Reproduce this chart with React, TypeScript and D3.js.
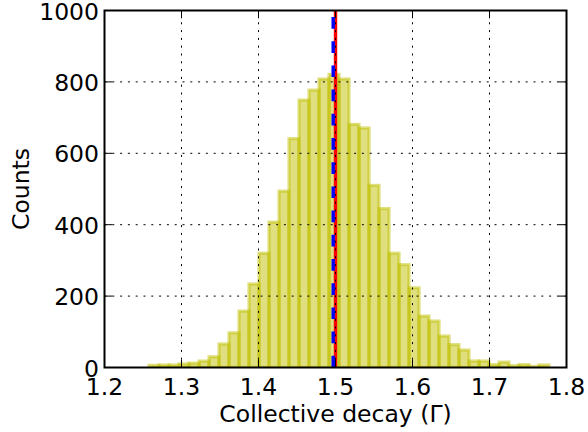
import React from "react";
import * as d3 from "d3";

// Histogram of collective decay estimates (40 bins)
const histMin = 1.2578;
const histMax = 1.7773;
const counts = [
  6, 7, 7, 10, 12, 18, 30, 66, 97, 158,
  234, 320, 407, 494, 641, 749, 777, 808, 821, 808,
  681, 671, 510, 445, 320, 288, 223, 144, 130, 88,
  64, 49, 18, 18, 8, 15, 5, 8, 3, 7,
];
const trueValue = 1.5;
const estimateValue = 1.497;

const xTicks = [1.2, 1.3, 1.4, 1.5, 1.6, 1.7, 1.8];
const yTicks = [0, 200, 400, 600, 800, 1000];
const xLabel = "Collective decay (\u0393)";
const yLabel = "Counts";

const W = 588;
const H = 432;
const left = 104.5;
const right = 566.5;
const top = 10.5;
const bottom = 367.5;
const FONT = "'DejaVu Sans', sans-serif";
const FS = 23.5;

export default function App() {
  const x = d3.scaleLinear().domain([1.2, 1.8]).range([left, right]);
  const y = d3.scaleLinear().domain([0, 1000]).range([bottom, top]);
  const bw = (histMax - histMin) / counts.length;
  const bins = counts.map((c, i) => ({ x0: histMin + i * bw, x1: histMin + (i + 1) * bw, c }));
  const tickLen = 7.8;

  return (
    <svg
      width={W}
      height={H}
      style={{ position: "absolute", left: 0, top: 0, background: "#fff" }}
      fontFamily={FONT}
    >
      <defs>
        <clipPath id="plot">
          <rect x={left} y={top} width={right - left} height={bottom - top} />
        </clipPath>
      </defs>
      <rect x={0} y={0} width={W} height={H} fill="#fff" />
      <g clipPath="url(#plot)">
        {bins.map((b, i) => (
          <rect
            key={i}
            x={x(b.x0)}
            y={y(b.c)}
            width={x(b.x1) - x(b.x0)}
            height={y(0) - y(b.c)}
            fill="rgb(191,191,0)"
            fillOpacity={0.5}
            stroke="rgb(191,191,0)"
            strokeOpacity={0.5}
            strokeWidth={3.2}
          />
        ))}
        <line
          x1={x(trueValue)}
          x2={x(trueValue)}
          y1={y(0)}
          y2={y(1000)}
          stroke="#ff0000"
          strokeWidth={3.4}
        />
        <line
          x1={x(estimateValue)}
          x2={x(estimateValue)}
          y1={y(0)}
          y2={y(1000)}
          stroke="#0000ff"
          strokeWidth={3.4}
          strokeDasharray="11.7 12.5"
        />
        {/* grid */}
        {xTicks.slice(1, -1).map((t) => (
          <line
            key={"gx" + t}
            x1={x(t)}
            x2={x(t)}
            y1={bottom}
            y2={top}
            stroke="#000"
            strokeWidth={1}
            strokeDasharray="2 5.8"
          />
        ))}
        {yTicks.slice(1, -1).map((t) => (
          <line
            key={"gy" + t}
            x1={left}
            x2={right}
            y1={y(t)}
            y2={y(t)}
            stroke="#000"
            strokeWidth={1}
            strokeDasharray="2 5.8"
          />
        ))}
      </g>
      {/* ticks */}
      {xTicks.map((t) => (
        <g key={"tx" + t}>
          <line x1={x(t)} x2={x(t)} y1={bottom} y2={bottom - tickLen} stroke="#000" strokeWidth={1} />
          <line x1={x(t)} x2={x(t)} y1={top} y2={top + tickLen} stroke="#000" strokeWidth={1} />
          <text x={x(t)} y={394.5} textAnchor="middle" fontSize={FS} fill="#000">
            {t.toFixed(1)}
          </text>
        </g>
      ))}
      {yTicks.map((t) => (
        <g key={"ty" + t}>
          <line x1={left} x2={left + tickLen} y1={y(t)} y2={y(t)} stroke="#000" strokeWidth={1} />
          <line x1={right} x2={right - tickLen} y1={y(t)} y2={y(t)} stroke="#000" strokeWidth={1} />
          <text x={99} y={y(t) + 9} textAnchor="end" fontSize={FS} fill="#000">
            {t}
          </text>
        </g>
      ))}
      {/* spines */}
      <rect
        x={left}
        y={top}
        width={right - left}
        height={bottom - top}
        fill="none"
        stroke="#000"
        strokeWidth={2}
      />
      <text x={(left + right) / 2} y={422} textAnchor="middle" fontSize={FS} fill="#000">
        {xLabel}
      </text>
      <text
        transform={`translate(29, ${(top + bottom) / 2}) rotate(-90)`}
        textAnchor="middle"
        fontSize={FS}
        fill="#000"
      >
        {yLabel}
      </text>
    </svg>
  );
}
